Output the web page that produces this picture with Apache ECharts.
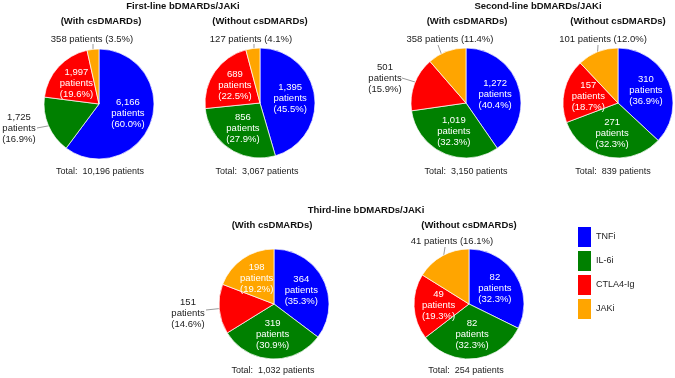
<!DOCTYPE html>
<html>
<head>
<meta charset="utf-8">
<script src="https://cdn.jsdelivr.net/npm/echarts@6/dist/echarts.min.js"></script>
<style>
  html, body { margin: 0; padding: 0; background: #fff; }
  #chart { width: 675px; height: 378px; }
</style>
</head>
<body>
<div id="chart"></div>
<script>
// drug classes, in the clockwise order of the slices
var categories = ['TNFi', 'IL-6i', 'CTLA4-Ig', 'JAKi'];
var colors = ['#0000ff', '#008000', '#ff0000', '#ffa500'];

var groupTitles = ['First-line bDMARDs/JAKi', 'Second-line bDMARDs/JAKi', 'Third-line bDMARDs/JAKi'];
var subTitles = ['(With csDMARDs)', '(Without csDMARDs)', '(With csDMARDs)', '(Without csDMARDs)', '(With csDMARDs)', '(Without csDMARDs)'];

// patients per class and the printed share
var first_with = [6166, 1725, 1997, 358];
var first_with_pct = [60.0, 16.9, 19.6, 3.5];
var first_without = [1395, 856, 689, 127];
var first_without_pct = [45.5, 27.9, 22.5, 4.1];
var second_with = [1272, 1019, 501, 358];
var second_with_pct = [40.4, 32.3, 15.9, 11.4];
var second_without = [310, 271, 157, 101];
var second_without_pct = [36.9, 32.3, 18.7, 12.0];
var third_with = [364, 319, 151, 198];
var third_with_pct = [35.3, 30.9, 14.6, 19.2];
var third_without = [82, 82, 49, 41];
var third_without_pct = [32.3, 32.3, 19.3, 16.1];

var totals = [10196, 3067, 3150, 839, 1032, 254];

var counts = [first_with, first_without, second_with, second_without, third_with, third_without];
var pcts = [first_with_pct, first_without_pct, second_with_pct, second_without_pct, third_with_pct, third_without_pct];

// layout of each pie: centre, which slices sit outside, where their label goes
var R = 55;
var panels = [
    { c: [99, 104], sub: [101, 21], tot: [100, 172], outs: [
        { i: 3, side: 'top', at: [-7, -65], line: [[-6, -60], [-6, -42]] },
        { i: 1, side: 'left', at: [-80, 24], line: [[-62, 24], [-46, 21]] }] },
    { c: [260, 103], sub: [260, 21], tot: [257, 172], outs: [
        { i: 3, side: 'top', at: [-9, -64], line: [[-6, -59], [-6, -43]] }] },
    { c: [466, 103], sub: [467, 21], tot: [466, 172], outs: [
        { i: 3, side: 'top', at: [-16, -64], line: [[-28, -58], [-22, -42]] },
        { i: 2, side: 'left', at: [-81, -25], line: [[-64, -25], [-51, -21]] }] },
    { c: [618, 103], sub: [618, 21], tot: [613, 172], outs: [
        { i: 3, side: 'top', at: [-15, -64], line: [[-20, -58], [-21, -41]] }] },
    { c: [274, 304], sub: [272, 225], tot: [273, 371], outs: [
        { i: 2, side: 'left', at: [-86, 9], line: [[-68, 6], [-49, 4]] }] },
    { c: [469, 304], sub: [469, 225], tot: [466, 371], outs: [
        { i: 3, side: 'top', at: [-17, -63], line: [[-24, -57], [-26, -44]] }] }
];

var FONT = '"Liberation Sans", Arial, sans-serif';

function fmt(n) { return n.toLocaleString('en-US'); }

var dom = document.getElementById('chart');
var myChart = echarts.init(dom, null, { renderer: 'canvas' });

var titles = [
    { text: groupTitles[0], left: 183, top: 1 },
    { text: groupTitles[1], left: 538, top: 1 },
    { text: groupTitles[2], left: 366, top: 205 }
].map(function (t) {
    return {
        text: t.text, left: t.left, top: t.top, textAlign: 'center', padding: 0,
        textStyle: { fontFamily: FONT, fontSize: 9.5, fontWeight: 'bold', color: '#111' }
    };
});

panels.forEach(function (p, k) {
    titles.push({
        text: subTitles[k], left: p.sub[0], top: p.sub[1] - 5, textAlign: 'center', padding: 0,
        textStyle: { fontFamily: FONT, fontSize: 9.5, fontWeight: 'bold', color: '#111' }
    });
    titles.push({
        text: 'Total:  ' + fmt(totals[k]) + ' patients', left: p.tot[0], top: p.tot[1] - 5,
        textAlign: 'center', padding: 0,
        textStyle: { fontFamily: FONT, fontSize: 9, fontWeight: 'normal', color: '#222' }
    });
});

var series = panels.map(function (p, k) {
    var outFor = {};
    p.outs.forEach(function (o) { outFor[o.i] = o; });
    var data = categories.map(function (name, i) {
        var o = outFor[i];
        var text = o && o.side === 'top'
            ? fmt(counts[k][i]) + ' patients (' + pcts[k][i].toFixed(1) + '%)'
            : fmt(counts[k][i]) + '\npatients\n(' + pcts[k][i].toFixed(1) + '%)';
        return {
            name: name,
            value: counts[k][i],
            label: o
                ? { position: 'outside', color: '#222', formatter: text }
                : { position: 'inside', color: '#fff', formatter: text },
            labelLine: { show: !!o }
        };
    });
    return {
        type: 'pie',
        center: p.c,
        radius: R,
        startAngle: 90,
        clockwise: true,
        avoidLabelOverlap: false,
        silent: true,
        itemStyle: { borderColor: '#fff', borderWidth: 0.7 },
        label: { fontFamily: FONT, fontSize: 9.5, lineHeight: 11, align: 'center' },
        labelLine: { lineStyle: { color: '#999', width: 1 }, length: 5, length2: 5 },
        labelLayout: function (params) {
            var o = outFor[params.dataIndex];
            if (!o) return {};
            return {
                x: p.c[0] + o.at[0],
                y: p.c[1] + o.at[1],
                align: 'center',
                verticalAlign: 'middle',
                labelLinePoints: [
                    [p.c[0] + o.line[0][0], p.c[1] + o.line[0][1]],
                    [p.c[0] + o.line[1][0], p.c[1] + o.line[1][1]],
                    [p.c[0] + o.line[1][0], p.c[1] + o.line[1][1]]
                ]
            };
        },
        data: data
    };
});

var option = {
    animation: false,
    color: colors,
    title: titles,
    legend: {
        orient: 'vertical',
        left: 578,
        top: 227,
        padding: 0,
        icon: 'rect',
        itemWidth: 13,
        itemHeight: 20,
        itemGap: 4,
        selectedMode: false,
        itemStyle: { borderWidth: 0 },
        textStyle: { fontFamily: FONT, fontSize: 9, color: '#222' },
        data: categories
    },
    series: series
};

if (option && typeof option === 'object') {
    myChart.setOption(option);
}
</script>
</body>
</html>
